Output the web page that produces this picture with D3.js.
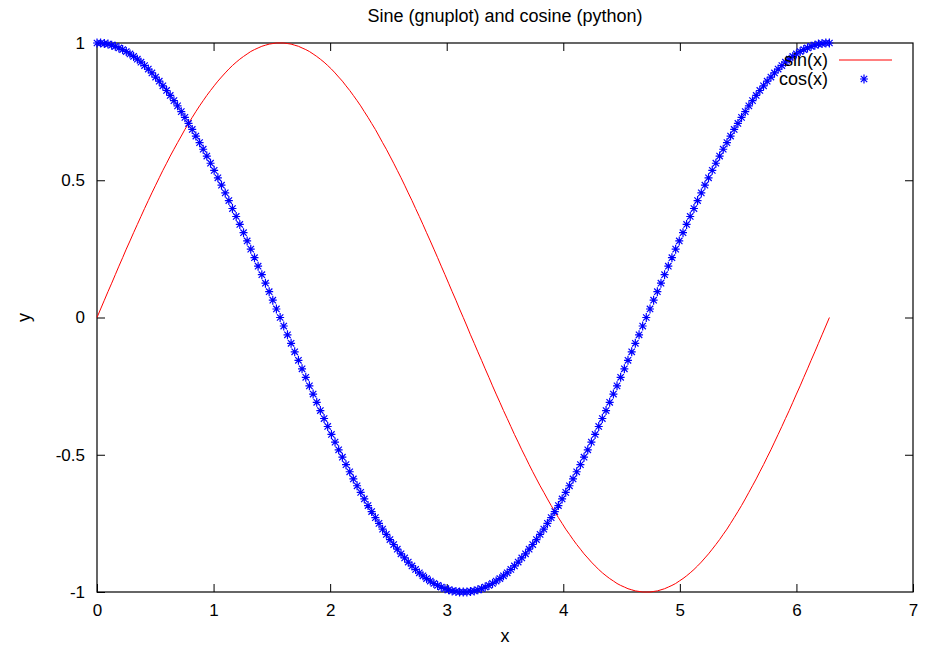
<!DOCTYPE html>
<meta charset="utf-8">
<script src="https://d3js.org/d3.v7.min.js"></script>
<style>
  body { margin: 0; background: #fff; }
  text { font-family: "Liberation Sans", Arial, sans-serif; font-size: 18px; fill: #000; }
</style>
<svg id="chart" width="927" height="646"></svg>
<script>
// sample positions (x)
const xs = [0.000,0.031,0.063,0.094,0.126,0.157,0.188,0.220,0.251,0.283,0.314,0.346,0.377,0.408,0.440,0.471,0.503,0.534,0.565,0.597,
  0.628,0.660,0.691,0.723,0.754,0.785,0.817,0.848,0.880,0.911,0.942,0.974,1.005,1.037,1.068,1.100,1.131,1.162,1.194,1.225,
  1.257,1.288,1.319,1.351,1.382,1.414,1.445,1.477,1.508,1.539,1.571,1.602,1.634,1.665,1.696,1.728,1.759,1.791,1.822,1.854,
  1.885,1.916,1.948,1.979,2.011,2.042,2.073,2.105,2.136,2.168,2.199,2.231,2.262,2.293,2.325,2.356,2.388,2.419,2.450,2.482,
  2.513,2.545,2.576,2.608,2.639,2.670,2.702,2.733,2.765,2.796,2.827,2.859,2.890,2.922,2.953,2.985,3.016,3.047,3.079,3.110,
  3.142,3.173,3.204,3.236,3.267,3.299,3.330,3.362,3.393,3.424,3.456,3.487,3.519,3.550,3.581,3.613,3.644,3.676,3.707,3.738,
  3.770,3.801,3.833,3.864,3.896,3.927,3.958,3.990,4.021,4.053,4.084,4.115,4.147,4.178,4.210,4.241,4.273,4.304,4.335,4.367,
  4.398,4.430,4.461,4.492,4.524,4.555,4.587,4.618,4.650,4.681,4.712,4.744,4.775,4.807,4.838,4.869,4.901,4.932,4.964,4.995,
  5.027,5.058,5.089,5.121,5.152,5.184,5.215,5.246,5.278,5.309,5.341,5.372,5.404,5.435,5.466,5.498,5.529,5.561,5.592,5.623,
  5.655,5.686,5.718,5.749,5.781,5.812,5.843,5.875,5.906,5.938,5.969,6.000,6.032,6.063,6.095,6.126,6.158,6.189,6.220,6.252,
  6.283];

// sin(x) series (red line)
const sinValues = [0.000,0.031,0.063,0.094,0.125,0.156,0.187,0.218,0.249,0.279,0.309,0.339,0.368,0.397,0.426,0.454,0.482,0.509,0.536,0.562,
  0.588,0.613,0.637,0.661,0.685,0.707,0.729,0.750,0.771,0.790,0.809,0.827,0.844,0.861,0.876,0.891,0.905,0.918,0.930,0.941,
  0.951,0.960,0.969,0.976,0.982,0.988,0.992,0.996,0.998,1.000,1.000,1.000,0.998,0.996,0.992,0.988,0.982,0.976,0.969,0.960,
  0.951,0.941,0.930,0.918,0.905,0.891,0.876,0.861,0.844,0.827,0.809,0.790,0.771,0.750,0.729,0.707,0.685,0.661,0.637,0.613,
  0.588,0.562,0.536,0.509,0.482,0.454,0.426,0.397,0.368,0.339,0.309,0.279,0.249,0.218,0.187,0.156,0.125,0.094,0.063,0.031,
  0.000,-0.031,-0.063,-0.094,-0.125,-0.156,-0.187,-0.218,-0.249,-0.279,-0.309,-0.339,-0.368,-0.397,-0.426,-0.454,-0.482,-0.509,-0.536,-0.562,
  -0.588,-0.613,-0.637,-0.661,-0.685,-0.707,-0.729,-0.750,-0.771,-0.790,-0.809,-0.827,-0.844,-0.861,-0.876,-0.891,-0.905,-0.918,-0.930,-0.941,
  -0.951,-0.960,-0.969,-0.976,-0.982,-0.988,-0.992,-0.996,-0.998,-1.000,-1.000,-1.000,-0.998,-0.996,-0.992,-0.988,-0.982,-0.976,-0.969,-0.960,
  -0.951,-0.941,-0.930,-0.918,-0.905,-0.891,-0.876,-0.861,-0.844,-0.827,-0.809,-0.790,-0.771,-0.750,-0.729,-0.707,-0.685,-0.661,-0.637,-0.613,
  -0.588,-0.562,-0.536,-0.509,-0.482,-0.454,-0.426,-0.397,-0.368,-0.339,-0.309,-0.279,-0.249,-0.218,-0.187,-0.156,-0.125,-0.094,-0.063,-0.031,
  0.000];

// cos(x) series (blue asterisks)
const cosValues = [1.000,1.000,0.998,0.996,0.992,0.988,0.982,0.976,0.969,0.960,0.951,0.941,0.930,0.918,0.905,0.891,0.876,0.861,0.844,0.827,
  0.809,0.790,0.771,0.750,0.729,0.707,0.685,0.661,0.637,0.613,0.588,0.562,0.536,0.509,0.482,0.454,0.426,0.397,0.368,0.339,
  0.309,0.279,0.249,0.218,0.187,0.156,0.125,0.094,0.063,0.031,0.000,-0.031,-0.063,-0.094,-0.125,-0.156,-0.187,-0.218,-0.249,-0.279,
  -0.309,-0.339,-0.368,-0.397,-0.426,-0.454,-0.482,-0.509,-0.536,-0.562,-0.588,-0.613,-0.637,-0.661,-0.685,-0.707,-0.729,-0.750,-0.771,-0.790,
  -0.809,-0.827,-0.844,-0.861,-0.876,-0.891,-0.905,-0.918,-0.930,-0.941,-0.951,-0.960,-0.969,-0.976,-0.982,-0.988,-0.992,-0.996,-0.998,-1.000,
  -1.000,-1.000,-0.998,-0.996,-0.992,-0.988,-0.982,-0.976,-0.969,-0.960,-0.951,-0.941,-0.930,-0.918,-0.905,-0.891,-0.876,-0.861,-0.844,-0.827,
  -0.809,-0.790,-0.771,-0.750,-0.729,-0.707,-0.685,-0.661,-0.637,-0.613,-0.588,-0.562,-0.536,-0.509,-0.482,-0.454,-0.426,-0.397,-0.368,-0.339,
  -0.309,-0.279,-0.249,-0.218,-0.187,-0.156,-0.125,-0.094,-0.063,-0.031,0.000,0.031,0.063,0.094,0.125,0.156,0.187,0.218,0.249,0.279,
  0.309,0.339,0.368,0.397,0.426,0.454,0.482,0.509,0.536,0.562,0.588,0.613,0.637,0.661,0.685,0.707,0.729,0.750,0.771,0.790,
  0.809,0.827,0.844,0.861,0.876,0.891,0.905,0.918,0.930,0.941,0.951,0.960,0.969,0.976,0.982,0.988,0.992,0.996,0.998,1.000,
  1.000];

const xTicks = [0, 1, 2, 3, 4, 5, 6, 7];
const yTicks = [-1, -0.5, 0, 0.5, 1];
const seriesNames = ["sin(x)", "cos(x)"];
const titleText = "Sine (gnuplot) and cosine (python)";

const svg = d3.select("#chart");
const plotLeft = 97, plotRight = 913, plotTop = 43, plotBottom = 592;

const x = d3.scaleLinear().domain([0, 7]).range([plotLeft, plotRight]);
const y = d3.scaleLinear().domain([-1, 1]).range([plotBottom, plotTop]);

// ticks on all four sides, pointing inwards
const fmt = d => String(d);
svg.append("g").attr("transform", `translate(0,${plotBottom})`)
  .call(d3.axisBottom(x).tickValues(xTicks).tickSize(-8).tickPadding(12).tickFormat(fmt));
svg.append("g").attr("transform", `translate(0,${plotTop})`)
  .call(d3.axisTop(x).tickValues(xTicks.slice(1, -1)).tickSize(-8).tickFormat(""));
svg.append("g").attr("transform", `translate(${plotLeft},0)`)
  .call(d3.axisLeft(y).tickValues(yTicks).tickSize(-8).tickPadding(12).tickFormat(fmt));
svg.append("g").attr("transform", `translate(${plotRight},0)`)
  .call(d3.axisRight(y).tickValues(yTicks.slice(1, -1)).tickSize(-8).tickFormat(""));

svg.selectAll(".domain").remove();
svg.selectAll(".tick line").attr("stroke", "#000");
svg.selectAll(".tick text").style("font-size", "17px").attr("fill", "#000")
  .style("font-family", '"Liberation Sans", Arial, sans-serif');

// border
svg.append("rect")
  .attr("x", plotLeft).attr("y", plotTop)
  .attr("width", plotRight - plotLeft).attr("height", plotBottom - plotTop)
  .attr("fill", "none").attr("stroke", "#000").attr("stroke-width", 1.2);

// titles
svg.append("text").attr("x", (plotLeft + plotRight) / 2).attr("y", 22)
  .attr("text-anchor", "middle").text(titleText);
svg.append("text").attr("x", (plotLeft + plotRight) / 2).attr("y", 642)
  .attr("text-anchor", "middle").text("x");
svg.append("text").attr("transform", `translate(30,${y(0)}) rotate(-90)`)
  .attr("text-anchor", "middle").text("y");

// sin line
const pts = xs.map((d, i) => ({x: d, s: sinValues[i], c: cosValues[i]}));
svg.append("path")
  .datum(pts)
  .attr("fill", "none").attr("stroke", "#ff0000").attr("stroke-width", 1)
  .attr("d", d3.line().x(d => x(d.x)).y(d => y(d.s)));

// cos asterisks
const star = "M-4,0h8M0,-4.5v9M-3.2,-3.2l6.4,6.4M-3.2,3.2l6.4,-6.4";
svg.append("g").selectAll("path")
  .data(pts)
  .join("path")
  .attr("transform", d => `translate(${x(d.x)},${y(d.c)})`)
  .attr("d", star)
  .attr("fill", "none").attr("stroke", "#0000ff").attr("stroke-width", 1.2);

// legend
const key = svg.append("g");
key.append("text").attr("x", 828).attr("y", 66).attr("text-anchor", "end").text(seriesNames[0]);
key.append("text").attr("x", 828).attr("y", 85).attr("text-anchor", "end").text(seriesNames[1]);
key.append("line").attr("x1", 839).attr("x2", 892).attr("y1", 60).attr("y2", 60)
  .attr("stroke", "#ff0000").attr("stroke-width", 1);
key.append("path").attr("transform", "translate(864,79)").attr("d", star)
  .attr("fill", "none").attr("stroke", "#0000ff").attr("stroke-width", 1.2);
</script>
